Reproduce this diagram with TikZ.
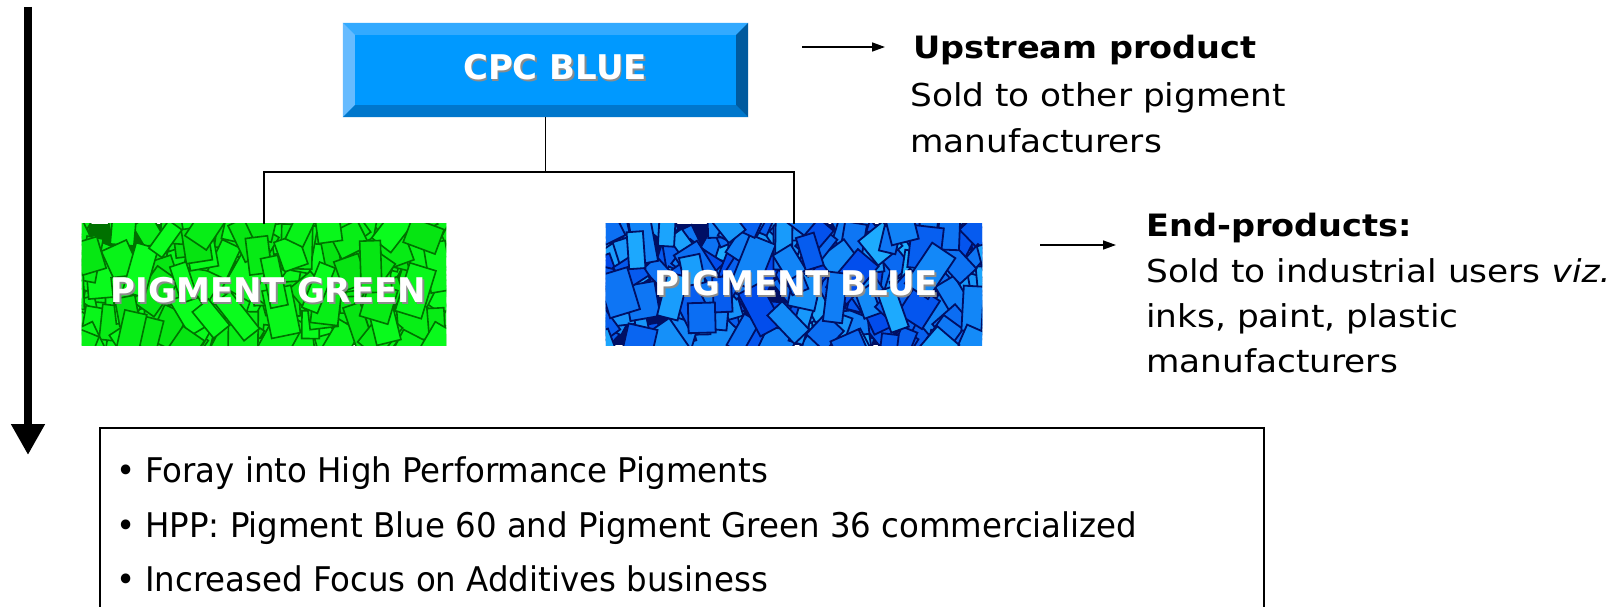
\documentclass[tikz,border=0pt]{standalone}
\usepackage{fontspec}
\setmainfont{DejaVu Sans}
\newfontfamily\verdfont{DejaVu Sans}[FakeStretch=1.09]
\newfontfamily\tahfont{DejaVu Sans Condensed}[FakeStretch=1.06]
\usetikzlibrary{arrows.meta,calc}
\definecolor{bvmain}{RGB}{0,153,255}
\definecolor{bvtop}{RGB}{51,170,255}
\definecolor{bvleft}{RGB}{102,187,255}
\definecolor{bvbot}{RGB}{0,119,204}
\definecolor{bvright}{RGB}{0,90,158}
\definecolor{gbright}{RGB}{10,255,30}
\definecolor{gmid}{RGB}{0,190,0}
\definecolor{gdark}{RGB}{0,80,0}
\definecolor{bbright}{RGB}{30,175,255}
\definecolor{bmid}{RGB}{0,70,235}
\definecolor{bdark}{RGB}{0,15,100}
\tikzset{
  conn/.style={line width=1.5pt,draw=black},
  smallarrow/.style={line width=1.5pt,-{Triangle[width=9pt,length=13pt]}},
  bigarrow/.style={line width=8pt,-{Triangle[width=32pt,length=31pt]}},
  pictext/.style={text=white,font=\bfseries\fontsize{34}{40}\selectfont,inner sep=0pt},
  shadowtext/.style={text=black!45,font=\bfseries\fontsize{34}{40}\selectfont,inner sep=0pt},
  headtext/.style={font=\verdfont\bfseries\fontsize{30.8}{36}\selectfont,anchor=base west,inner sep=0pt},
  bodytext/.style={font=\verdfont\fontsize{31.5}{36}\selectfont,anchor=base west,inner sep=0pt},
  bullettext/.style={font=\tahfont\fontsize{34}{40}\selectfont,anchor=base west,inner sep=0pt},
  picbox/.style={minimum width=#1,minimum height=121pt,inner sep=0pt},
}
\begin{document}
\begin{tikzpicture}[x=1pt,y=-1pt]
\useasboundingbox (0,0) rectangle (1617,607);
\fill[white] (0,0) rectangle (1617,607);

% ---- big down arrow ----
\coordinate (bigtop) at (28,7);
\coordinate (bigtip) at (28,455);
\draw[bigarrow] (bigtop) -- (bigtip);

% ---- CPC BLUE bevel box ----
\node[minimum width=405pt,minimum height=94pt,inner sep=0pt] (cpc) at (545.5,70) {};
\coordinate (inw) at ($(cpc.north west)+(12,12)$);
\coordinate (ine) at ($(cpc.north east)+(-12,12)$);
\coordinate (isw) at ($(cpc.south west)+(12,-12)$);
\coordinate (ise) at ($(cpc.south east)+(-12,-12)$);
\fill[bvmain] (cpc.north west) rectangle (cpc.south east);
\fill[bvtop] (cpc.north west) -- (cpc.north east) -- (ine) -- (inw) -- cycle;
\fill[bvleft] (cpc.north west) -- (inw) -- (isw) -- (cpc.south west) -- cycle;
\fill[bvbot] (cpc.south west) -- (isw) -- (ise) -- (cpc.south east) -- cycle;
\fill[bvright] (cpc.north east) -- (cpc.south east) -- (ise) -- (ine) -- cycle;
\node[shadowtext] at ($(cpc.center)+(11,-1)$) {CPC BLUE};
\node[pictext] (cpctext) at ($(cpc.center)+(9.5,-3)$) {CPC BLUE};

% ---- Pigment green box ----
\node[picbox=364pt] (green) at (264,284.5) {};
\begin{scope}
\clip (green.north west) rectangle (green.south east);
\fill[gdark!70!gmid] (green.north west) rectangle (green.south east);
\pgfmathsetseed{7}
\foreach \i in {1,...,230}{
  \pgfmathsetmacro\rx{70+rnd*390}
  \pgfmathsetmacro\ry{215+rnd*140}
  \pgfmathsetmacro\ra{-40+rnd*80}
  \pgfmathsetmacro\rw{8+rnd*9}
  \pgfmathsetmacro\rh{12+rnd*14}
  \pgfmathsetmacro\rs{int(55+rnd*45)}
  \fill[gbright!\rs!gmid,draw=gdark!70!gmid,line width=1.6pt,rotate around={\ra:(\rx,\ry)}]
     ({\rx-\rw},{\ry-\rh}) rectangle ({\rx+\rw},{\ry+\rh});
}
\end{scope}
\node[shadowtext] at ($(green.center)+(6,8)$) {PIGMENT GREEN};
\node[pictext] (greentext) at ($(green.center)+(4.5,6)$) {PIGMENT GREEN};

% ---- Pigment blue box ----
\node[picbox=376pt] (blue) at (794,284.5) {};
\begin{scope}
\clip (blue.north west) rectangle (blue.south east);
\fill[bdark] (blue.north west) rectangle (blue.south east);
\pgfmathsetseed{11}
\foreach \i in {1,...,240}{
  \pgfmathsetmacro\rx{595+rnd*400}
  \pgfmathsetmacro\ry{215+rnd*140}
  \pgfmathsetmacro\ra{-45+rnd*90}
  \pgfmathsetmacro\rw{7+rnd*9}
  \pgfmathsetmacro\rh{12+rnd*14}
  \pgfmathsetmacro\rs{int(rnd*100)}
  \fill[bbright!\rs!bmid,draw=bdark,line width=1.8pt,rotate around={\ra:(\rx,\ry)}]
     ({\rx-\rw},{\ry-\rh}) rectangle ({\rx+\rw},{\ry+\rh});
}
\end{scope}
\node[shadowtext] at ($(blue.center)+(4,0.5)$) {PIGMENT BLUE};
\node[pictext] (bluetext) at ($(blue.center)+(2.5,-1.5)$) {PIGMENT BLUE};

% ---- tree connectors ----
\coordinate (junc) at (cpc.south |- 0,172);
\draw[conn] (cpc.south) -- (junc);
\draw[conn] (green.north) |- (junc) -| (blue.north);

% ---- upstream annotation ----
\coordinate (ua) at (802,47);
\coordinate (ub) at (885,47);
\draw[smallarrow] (ua) -- (ub);
\node[headtext] (uhead) at (913,59) {Upstream product};
\node[bodytext] (ub1) at (910,107) {Sold to other pigment};
\node[bodytext] (ub2) at (910,153) {manufacturers};

% ---- end-products annotation ----
\coordinate (ea) at (1040,245);
\coordinate (eb) at (1116,245);
\draw[smallarrow] (ea) -- (eb);
\node[headtext] (ehead) at (1146,236) {End-products:};
\node[bodytext] (eb1) at (1146,282) {Sold to industrial users \textit{viz.}};
\node[bodytext] (eb2) at (1146,327) {inks, paint, plastic};
\node[bodytext] (eb3) at (1146,372) {manufacturers};

% ---- bullet box ----
\coordinate (bxa) at (100,612);
\coordinate (bxb) at (100,428);
\coordinate (bxc) at (1264,428);
\coordinate (bxd) at (1264,612);
\draw[line width=1.6pt] (bxa) -- (bxb) -- (bxc) -- (bxd);
\node[bullettext] (bl1) at (116,482) {•\hspace{10pt}Foray into High Performance Pigments};
\node[bullettext] (bl2) at (116,537) {•\hspace{10pt}HPP: Pigment Blue 60 and Pigment Green 36 commercialized};
\node[bullettext] (bl3) at (116,591) {•\hspace{10pt}Increased Focus on Additives business};
\end{tikzpicture}
\end{document}
